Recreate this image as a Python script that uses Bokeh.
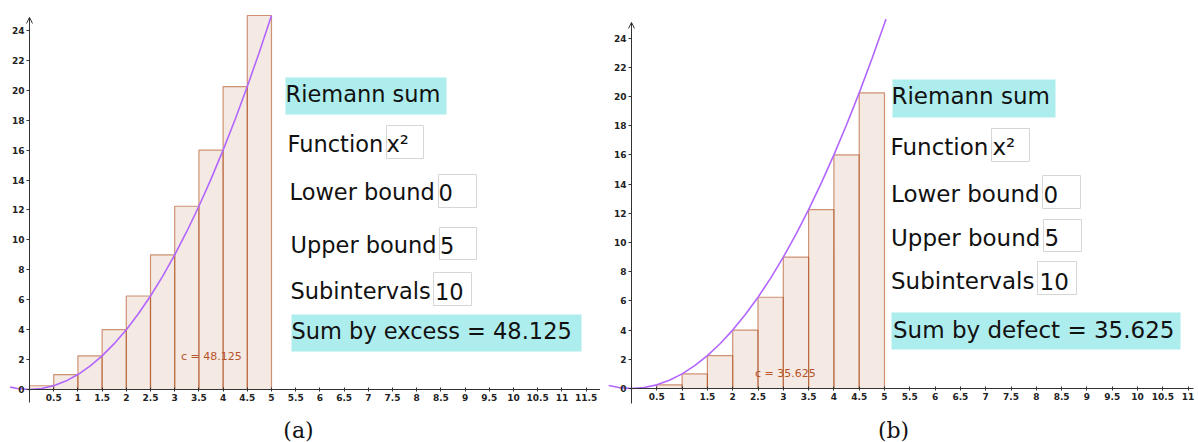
from bokeh.plotting import figure
from bokeh.layouts import row
from bokeh.models import (LinearAxis, FixedTicker, NumeralTickFormatter, Label,
                          BoxAnnotation, Arrow, OpenHead, Range1d)
from bokeh.embed import file_html
from bokeh.resources import INLINE

# ---------------- data ----------------
bar_left = [0, 0.5, 1, 1.5, 2, 2.5, 3, 3.5, 4, 4.5]
bar_right = [0.5, 1, 1.5, 2, 2.5, 3, 3.5, 4, 4.5, 5]
heights_excess = [0.25, 1, 2.25, 4, 6.25, 9, 12.25, 16, 20.25, 25]
heights_defect = [0, 0.25, 1, 2.25, 4, 6.25, 9, 12.25, 16, 20.25]

curve_x_a = [-0.4, -0.25, 0, 0.25, 0.5, 0.75, 1, 1.25, 1.5, 1.75, 2, 2.25, 2.5,
             2.75, 3, 3.25, 3.5, 3.75, 4, 4.25, 4.5, 4.75, 5]
curve_y_a = [0.16, 0.0625, 0, 0.0625, 0.25, 0.5625, 1, 1.5625, 2.25, 3.0625, 4,
             5.0625, 6.25, 7.5625, 9, 10.5625, 12.25, 14.0625, 16, 18.0625,
             20.25, 22.5625, 25]
curve_x_b = [-0.45, -0.25, 0, 0.25, 0.5, 0.75, 1, 1.25, 1.5, 1.75, 2, 2.25, 2.5,
             2.75, 3, 3.25, 3.5, 3.75, 4, 4.25, 4.5, 4.75, 5, 5.03]
curve_y_b = [0.2025, 0.0625, 0, 0.0625, 0.25, 0.5625, 1, 1.5625, 2.25, 3.0625, 4,
             5.0625, 6.25, 7.5625, 9, 10.5625, 12.25, 14.0625, 16, 18.0625,
             20.25, 22.5625, 25, 25.3]

x_ticks_a = [0.5, 1, 1.5, 2, 2.5, 3, 3.5, 4, 4.5, 5, 5.5, 6, 6.5, 7, 7.5, 8, 8.5,
             9, 9.5, 10, 10.5, 11, 11.5]
x_ticks_b = [0.5, 1, 1.5, 2, 2.5, 3, 3.5, 4, 4.5, 5, 5.5, 6, 6.5, 7, 7.5, 8, 8.5,
             9, 9.5, 10, 10.5, 11]
y_ticks = [0, 2, 4, 6, 8, 10, 12, 14, 16, 18, 20, 22, 24]

function_text = "x²"
lower_bound = "0"
upper_bound = "5"
subintervals = "10"
sum_excess = "48.125"
sum_defect = "35.625"

# ---------------- styles ----------------
BAR_LINE = "#b0501f"
BAR_FILL = "#b5542a"
CURVE = "#b266ff"
AXIS = "#333333"
CYAN = "#aeeded"
TXT = "#111111"
FONT = "DejaVu Sans"
H = 442


def make_panel(width, page_left, ox, sx, oy, sy, xticks, x_axis_end, y_axis_lo,
               y_axis_hi, heights, cx, cy, layout, csum_pos, csum, caption,
               cap_pos, fs):
    X = lambda px: (px - ox) / sx
    Y = lambda py: (oy - py) / sy
    p = figure(width=width, height=H,
               x_range=Range1d(X(page_left), X(page_left + width)),
               y_range=Range1d(Y(H), Y(0)),
               x_axis_location=None, y_axis_location=None,
               toolbar_location=None, output_backend="svg", min_border=0,
               outline_line_color=None, background_fill_color="white",
               border_fill_color="white")
    p.grid.visible = False

    xa = LinearAxis(fixed_location=0, ticker=FixedTicker(ticks=xticks),
                    formatter=NumeralTickFormatter(format="0.[0]"),
                    bounds=(0, x_axis_end), axis_line_color=AXIS,
                    major_tick_line_color=AXIS, major_tick_in=2, major_tick_out=2,
                    minor_tick_line_color=None, major_label_text_font=FONT,
                    major_label_text_font_style="bold",
                    major_label_text_font_size="9px",
                    major_label_text_color="#222222", major_label_standoff=2)
    p.add_layout(xa, "below")
    ya = LinearAxis(fixed_location=0, ticker=FixedTicker(ticks=y_ticks),
                    formatter=NumeralTickFormatter(format="0"),
                    bounds=(y_axis_lo, y_axis_hi), axis_line_color=AXIS,
                    major_tick_line_color=AXIS, major_tick_in=0, major_tick_out=3,
                    minor_tick_line_color=None, major_label_text_font=FONT,
                    major_label_text_font_style="bold",
                    major_label_text_font_size="9px",
                    major_label_text_color="#222222", major_label_standoff=2)
    p.add_layout(ya, "left")
    p.add_layout(Arrow(end=OpenHead(size=6, line_color=AXIS, line_width=1),
                       x_start=0, y_start=y_axis_hi - 0.5, x_end=0,
                       y_end=y_axis_hi, line_color=AXIS, line_width=1))

    p.quad(left=bar_left, right=bar_right, bottom=0, top=heights,
           fill_color=BAR_FILL, fill_alpha=0.13, line_color=BAR_LINE,
           line_alpha=0.6, line_width=1.2)
    p.line(cx, cy, line_color=CURVE, line_width=1.6)

    p.add_layout(Label(x=X(csum_pos[0]), y=Y(csum_pos[1] - 0.36 * 11),
                       text="c = " + csum, text_font=FONT, text_font_size="11px",
                       text_color="#b5542a", text_baseline="middle"))

    for kind, a, b, c, d in layout:
        if kind == "cbox":
            p.add_layout(BoxAnnotation(left=X(a), right=X(b), top=Y(c),
                                       bottom=Y(d), fill_color=CYAN,
                                       fill_alpha=1, line_color=None))
        elif kind == "ibox":
            p.add_layout(BoxAnnotation(left=X(a), right=X(b), top=Y(c),
                                       bottom=Y(d), fill_color="white",
                                       fill_alpha=1, line_color="#d6d6d6",
                                       line_alpha=1, line_width=1))
    for kind, a, b, c, d in layout:
        if kind == "text":
            p.add_layout(Label(x=X(a), y=Y(b - 0.36 * fs), text=c, text_font=FONT,
                               text_font_size=f"{fs}px", text_color=TXT,
                               text_baseline="middle", text_align="left"))

    p.add_layout(Label(x=X(cap_pos[0]), y=Y(cap_pos[1]), text=caption,
                       text_font="DejaVu Serif", text_font_size="22px",
                       text_color="#111111", text_baseline="middle",
                       text_align="center"))
    return p


layout_a = [
    ("cbox", 285, 446, 77, 114), ("text", 285, 102, "Riemann sum", None),
    ("ibox", 386, 423, 125, 158), ("text", 287, 152, "Function", None),
    ("text", 386, 152, function_text, None),
    ("ibox", 438, 476, 174, 207), ("text", 289, 200, "Lower bound", None),
    ("text", 438, 200, lower_bound, None),
    ("ibox", 439, 476, 227, 259), ("text", 290, 253, "Upper bound", None),
    ("text", 439.5, 253, upper_bound, None),
    ("ibox", 433, 471, 272, 305), ("text", 290, 299, "Subintervals", None),
    ("text", 434.5, 299, subintervals, None),
    ("cbox", 291, 581, 314, 351),
    ("text", 291, 339, "Sum by excess = " + sum_excess, None),
]
layout_b = [
    ("cbox", 892, 1055, 79, 117), ("text", 891, 104, "Riemann sum", None),
    ("ibox", 991, 1029, 128, 161), ("text", 890, 155, "Function", None),
    ("text", 992, 155, function_text, None),
    ("ibox", 1042, 1080, 175, 208), ("text", 890.5, 202, "Lower bound", None),
    ("text", 1043, 202, lower_bound, None),
    ("ibox", 1043, 1081, 219, 251), ("text", 890.5, 245.5, "Upper bound", None),
    ("text", 1044, 245.5, upper_bound, None),
    ("ibox", 1037, 1076, 261, 294), ("text", 890.5, 289, "Subintervals", None),
    ("text", 1039, 289, subintervals, None),
    ("cbox", 891, 1180, 312, 349),
    ("text", 892.5, 338, "Sum by defect = " + sum_defect, None),
]

pa = make_panel(600, 0, 29, 48.4, 389, 14.96, x_ticks_a, 11.8, -0.87, 24.87,
                heights_excess, curve_x_a, curve_y_a, layout_a, (180.5, 360),
                sum_excess, "(a)", (298, 430), 22.5)
pb = make_panel(598, 600, 631, 50.6, 388, 14.6, x_ticks_b, 11.1, -1.03, 25.07,
                heights_defect, curve_x_b, curve_y_b, layout_b, (754.5, 377),
                sum_defect, "(b)", (893, 430), 23)

layout = row(pa, pb, spacing=0)
open("out.html", "w").write(file_html(layout, INLINE))
